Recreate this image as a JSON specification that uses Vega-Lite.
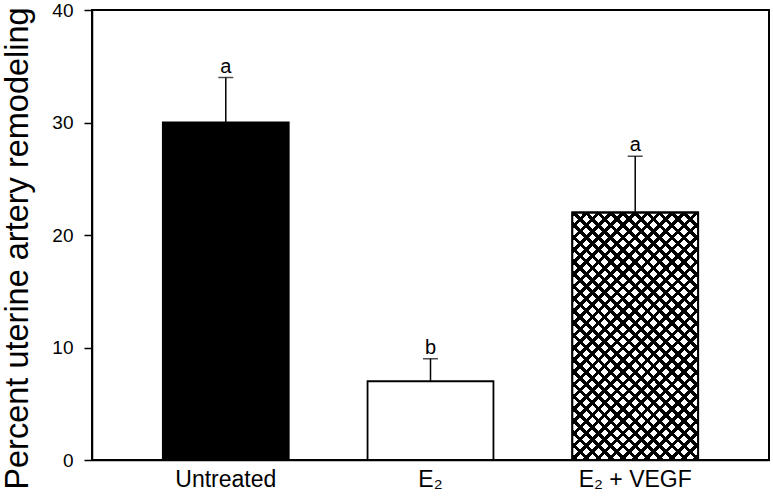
{
  "$schema": "https://vega.github.io/schema/vega-lite/v6.json",
  "width": 677,
  "height": 450,
  "autosize": "none",
  "padding": {"left": 92, "top": 10, "right": 4, "bottom": 37},
  "background": "white",
  "config": {
    "font": "Liberation Sans",
    "view": {"stroke": "#000", "strokeWidth": 2},
    "axis": {"grid": false, "domainColor": "#000", "domainWidth": 1.5, "tickColor": "#000", "labelColor": "#000", "titleColor": "#000", "labelFont": "Liberation Sans", "titleFont": "Liberation Sans"}
  },
  "data": {
    "values": [
      {"group": "Untreated", "mean": 30, "upper": 34, "letter": "a"},
      {"group": "E₂", "mean": 7, "upper": 9, "letter": "b"},
      {"group": "E₂ + VEGF", "mean": 22, "upper": 27, "letter": "a"}
    ]
  },
  "encoding": {
    "x": {
      "field": "group", "type": "nominal", "sort": null,
      "scale": {"paddingInner": 0.385, "paddingOuter": 0.346},
      "axis": {"title": null, "labelAngle": 0, "ticks": false, "tickSize": 0, "labelPadding": 8, "labelFontSize": 23}
    }
  },
  "layer": [
    {
      "mark": {"type": "rule", "stroke": "#000", "strokeWidth": 1.5},
      "encoding": {
        "y": {"field": "mean", "type": "quantitative"},
        "y2": {"field": "upper"}
      }
    },
    {
      "mark": {"type": "bar", "stroke": "#000", "strokeWidth": 1.8},
      "encoding": {
        "y": {
          "field": "mean", "type": "quantitative",
          "scale": {"domain": [0, 40], "nice": false},
          "axis": {"title": "Percent uterine artery remodeling", "titleFontSize": 32.5, "titleFontWeight": "normal", "titleX": -65, "titleY": 238, "titleBaseline": "alphabetic", "titleAngle": -90, "values": [0, 10, 20, 30, 40], "tickSize": 8, "tickWidth": 1.5, "labelPadding": 11, "labelFontSize": 19}
        },
        "fill": {
          "field": "group", "type": "nominal", "sort": null,
          "scale": {"domain": ["Untreated", "E₂", "E₂ + VEGF"], "range": ["#000000", "#ffffff", "#ffffff"]},
          "legend": null
        }
      }
    },
    {
      "transform": [{"filter": "datum.group === 'E₂ + VEGF'"}],
      "mark": {
        "type": "bar", "strokeWidth": 0,
        "fill": {"gradient": "linear", "x1": 0, "y1": 0, "x2": 1, "y2": 1.964, "stops": [
          {"offset":0,"color":"#000"},{"offset":0.0075,"color":"#000"},{"offset":0.0075,"color":"transparent"},{"offset":0.02,"color":"transparent"},
          {"offset":0.02,"color":"#000"},{"offset":0.0275,"color":"#000"},{"offset":0.0275,"color":"transparent"},{"offset":0.04,"color":"transparent"},
          {"offset":0.04,"color":"#000"},{"offset":0.0475,"color":"#000"},{"offset":0.0475,"color":"transparent"},{"offset":0.06,"color":"transparent"},
          {"offset":0.06,"color":"#000"},{"offset":0.0675,"color":"#000"},{"offset":0.0675,"color":"transparent"},{"offset":0.08,"color":"transparent"},
          {"offset":0.08,"color":"#000"},{"offset":0.0875,"color":"#000"},{"offset":0.0875,"color":"transparent"},{"offset":0.10,"color":"transparent"},
          {"offset":0.10,"color":"#000"},{"offset":0.1075,"color":"#000"},{"offset":0.1075,"color":"transparent"},{"offset":0.12,"color":"transparent"},
          {"offset":0.12,"color":"#000"},{"offset":0.1275,"color":"#000"},{"offset":0.1275,"color":"transparent"},{"offset":0.14,"color":"transparent"},
          {"offset":0.14,"color":"#000"},{"offset":0.1475,"color":"#000"},{"offset":0.1475,"color":"transparent"},{"offset":0.16,"color":"transparent"},
          {"offset":0.16,"color":"#000"},{"offset":0.1675,"color":"#000"},{"offset":0.1675,"color":"transparent"},{"offset":0.18,"color":"transparent"},
          {"offset":0.18,"color":"#000"},{"offset":0.1875,"color":"#000"},{"offset":0.1875,"color":"transparent"},{"offset":0.20,"color":"transparent"},
          {"offset":0.20,"color":"#000"},{"offset":0.2075,"color":"#000"},{"offset":0.2075,"color":"transparent"},{"offset":0.22,"color":"transparent"},
          {"offset":0.22,"color":"#000"},{"offset":0.2275,"color":"#000"},{"offset":0.2275,"color":"transparent"},{"offset":0.24,"color":"transparent"},
          {"offset":0.24,"color":"#000"},{"offset":0.2475,"color":"#000"},{"offset":0.2475,"color":"transparent"},{"offset":0.26,"color":"transparent"},
          {"offset":0.26,"color":"#000"},{"offset":0.2675,"color":"#000"},{"offset":0.2675,"color":"transparent"},{"offset":0.28,"color":"transparent"},
          {"offset":0.28,"color":"#000"},{"offset":0.2875,"color":"#000"},{"offset":0.2875,"color":"transparent"},{"offset":0.30,"color":"transparent"},
          {"offset":0.30,"color":"#000"},{"offset":0.3075,"color":"#000"},{"offset":0.3075,"color":"transparent"},{"offset":0.32,"color":"transparent"},
          {"offset":0.32,"color":"#000"},{"offset":0.3275,"color":"#000"},{"offset":0.3275,"color":"transparent"},{"offset":0.34,"color":"transparent"},
          {"offset":0.34,"color":"#000"},{"offset":0.3475,"color":"#000"},{"offset":0.3475,"color":"transparent"},{"offset":0.36,"color":"transparent"},
          {"offset":0.36,"color":"#000"},{"offset":0.3675,"color":"#000"},{"offset":0.3675,"color":"transparent"},{"offset":0.38,"color":"transparent"},
          {"offset":0.38,"color":"#000"},{"offset":0.3875,"color":"#000"},{"offset":0.3875,"color":"transparent"},{"offset":0.40,"color":"transparent"},
          {"offset":0.40,"color":"#000"},{"offset":0.4075,"color":"#000"},{"offset":0.4075,"color":"transparent"},{"offset":0.42,"color":"transparent"},
          {"offset":0.42,"color":"#000"},{"offset":0.4275,"color":"#000"},{"offset":0.4275,"color":"transparent"},{"offset":0.44,"color":"transparent"},
          {"offset":0.44,"color":"#000"},{"offset":0.4475,"color":"#000"},{"offset":0.4475,"color":"transparent"},{"offset":0.46,"color":"transparent"},
          {"offset":0.46,"color":"#000"},{"offset":0.4675,"color":"#000"},{"offset":0.4675,"color":"transparent"},{"offset":0.48,"color":"transparent"},
          {"offset":0.48,"color":"#000"},{"offset":0.4875,"color":"#000"},{"offset":0.4875,"color":"transparent"},{"offset":0.50,"color":"transparent"},
          {"offset":0.50,"color":"#000"},{"offset":0.5075,"color":"#000"},{"offset":0.5075,"color":"transparent"},{"offset":0.52,"color":"transparent"},
          {"offset":0.52,"color":"#000"},{"offset":0.5275,"color":"#000"},{"offset":0.5275,"color":"transparent"},{"offset":0.54,"color":"transparent"},
          {"offset":0.54,"color":"#000"},{"offset":0.5475,"color":"#000"},{"offset":0.5475,"color":"transparent"},{"offset":0.56,"color":"transparent"},
          {"offset":0.56,"color":"#000"},{"offset":0.5675,"color":"#000"},{"offset":0.5675,"color":"transparent"},{"offset":0.58,"color":"transparent"},
          {"offset":0.58,"color":"#000"},{"offset":0.5875,"color":"#000"},{"offset":0.5875,"color":"transparent"},{"offset":0.60,"color":"transparent"},
          {"offset":0.60,"color":"#000"},{"offset":0.6075,"color":"#000"},{"offset":0.6075,"color":"transparent"},{"offset":0.62,"color":"transparent"}
        ]}
      },
      "encoding": {
        "y": {"field": "mean", "type": "quantitative"}
      }
    },
    {
      "transform": [{"filter": "datum.group === 'E₂ + VEGF'"}],
      "mark": {
        "type": "bar", "strokeWidth": 0,
        "fill": {"gradient": "linear", "x1": 1, "y1": 0, "x2": 0, "y2": 1.964, "stops": [
          {"offset":0,"color":"#000"},{"offset":0.0075,"color":"#000"},{"offset":0.0075,"color":"transparent"},{"offset":0.02,"color":"transparent"},
          {"offset":0.02,"color":"#000"},{"offset":0.0275,"color":"#000"},{"offset":0.0275,"color":"transparent"},{"offset":0.04,"color":"transparent"},
          {"offset":0.04,"color":"#000"},{"offset":0.0475,"color":"#000"},{"offset":0.0475,"color":"transparent"},{"offset":0.06,"color":"transparent"},
          {"offset":0.06,"color":"#000"},{"offset":0.0675,"color":"#000"},{"offset":0.0675,"color":"transparent"},{"offset":0.08,"color":"transparent"},
          {"offset":0.08,"color":"#000"},{"offset":0.0875,"color":"#000"},{"offset":0.0875,"color":"transparent"},{"offset":0.10,"color":"transparent"},
          {"offset":0.10,"color":"#000"},{"offset":0.1075,"color":"#000"},{"offset":0.1075,"color":"transparent"},{"offset":0.12,"color":"transparent"},
          {"offset":0.12,"color":"#000"},{"offset":0.1275,"color":"#000"},{"offset":0.1275,"color":"transparent"},{"offset":0.14,"color":"transparent"},
          {"offset":0.14,"color":"#000"},{"offset":0.1475,"color":"#000"},{"offset":0.1475,"color":"transparent"},{"offset":0.16,"color":"transparent"},
          {"offset":0.16,"color":"#000"},{"offset":0.1675,"color":"#000"},{"offset":0.1675,"color":"transparent"},{"offset":0.18,"color":"transparent"},
          {"offset":0.18,"color":"#000"},{"offset":0.1875,"color":"#000"},{"offset":0.1875,"color":"transparent"},{"offset":0.20,"color":"transparent"},
          {"offset":0.20,"color":"#000"},{"offset":0.2075,"color":"#000"},{"offset":0.2075,"color":"transparent"},{"offset":0.22,"color":"transparent"},
          {"offset":0.22,"color":"#000"},{"offset":0.2275,"color":"#000"},{"offset":0.2275,"color":"transparent"},{"offset":0.24,"color":"transparent"},
          {"offset":0.24,"color":"#000"},{"offset":0.2475,"color":"#000"},{"offset":0.2475,"color":"transparent"},{"offset":0.26,"color":"transparent"},
          {"offset":0.26,"color":"#000"},{"offset":0.2675,"color":"#000"},{"offset":0.2675,"color":"transparent"},{"offset":0.28,"color":"transparent"},
          {"offset":0.28,"color":"#000"},{"offset":0.2875,"color":"#000"},{"offset":0.2875,"color":"transparent"},{"offset":0.30,"color":"transparent"},
          {"offset":0.30,"color":"#000"},{"offset":0.3075,"color":"#000"},{"offset":0.3075,"color":"transparent"},{"offset":0.32,"color":"transparent"},
          {"offset":0.32,"color":"#000"},{"offset":0.3275,"color":"#000"},{"offset":0.3275,"color":"transparent"},{"offset":0.34,"color":"transparent"},
          {"offset":0.34,"color":"#000"},{"offset":0.3475,"color":"#000"},{"offset":0.3475,"color":"transparent"},{"offset":0.36,"color":"transparent"},
          {"offset":0.36,"color":"#000"},{"offset":0.3675,"color":"#000"},{"offset":0.3675,"color":"transparent"},{"offset":0.38,"color":"transparent"},
          {"offset":0.38,"color":"#000"},{"offset":0.3875,"color":"#000"},{"offset":0.3875,"color":"transparent"},{"offset":0.40,"color":"transparent"},
          {"offset":0.40,"color":"#000"},{"offset":0.4075,"color":"#000"},{"offset":0.4075,"color":"transparent"},{"offset":0.42,"color":"transparent"},
          {"offset":0.42,"color":"#000"},{"offset":0.4275,"color":"#000"},{"offset":0.4275,"color":"transparent"},{"offset":0.44,"color":"transparent"},
          {"offset":0.44,"color":"#000"},{"offset":0.4475,"color":"#000"},{"offset":0.4475,"color":"transparent"},{"offset":0.46,"color":"transparent"},
          {"offset":0.46,"color":"#000"},{"offset":0.4675,"color":"#000"},{"offset":0.4675,"color":"transparent"},{"offset":0.48,"color":"transparent"},
          {"offset":0.48,"color":"#000"},{"offset":0.4875,"color":"#000"},{"offset":0.4875,"color":"transparent"},{"offset":0.50,"color":"transparent"},
          {"offset":0.50,"color":"#000"},{"offset":0.5075,"color":"#000"},{"offset":0.5075,"color":"transparent"},{"offset":0.52,"color":"transparent"},
          {"offset":0.52,"color":"#000"},{"offset":0.5275,"color":"#000"},{"offset":0.5275,"color":"transparent"},{"offset":0.54,"color":"transparent"},
          {"offset":0.54,"color":"#000"},{"offset":0.5475,"color":"#000"},{"offset":0.5475,"color":"transparent"},{"offset":0.56,"color":"transparent"},
          {"offset":0.56,"color":"#000"},{"offset":0.5675,"color":"#000"},{"offset":0.5675,"color":"transparent"},{"offset":0.58,"color":"transparent"},
          {"offset":0.58,"color":"#000"},{"offset":0.5875,"color":"#000"},{"offset":0.5875,"color":"transparent"},{"offset":0.60,"color":"transparent"},
          {"offset":0.60,"color":"#000"},{"offset":0.6075,"color":"#000"},{"offset":0.6075,"color":"transparent"},{"offset":0.62,"color":"transparent"}
        ]}
      },
      "encoding": {
        "y": {"field": "mean", "type": "quantitative"}
      }
    },
    {
      "transform": [{"filter": "datum.group === 'E₂ + VEGF'"}],
      "mark": {"type": "bar", "fill": null, "fillOpacity": 0, "stroke": "#000", "strokeWidth": 1.8},
      "encoding": {
        "y": {"field": "mean", "type": "quantitative"}
      }
    },
    {
      "mark": {"type": "tick", "color": "#000", "size": 15, "thickness": 1.5, "orient": "horizontal"},
      "encoding": {
        "y": {"field": "upper", "type": "quantitative"}
      }
    },
    {
      "mark": {"type": "text", "dy": -5, "baseline": "alphabetic", "fontSize": 20, "color": "#000", "font": "Liberation Sans"},
      "encoding": {
        "y": {"field": "upper", "type": "quantitative"},
        "text": {"field": "letter"}
      }
    }
  ]
}
